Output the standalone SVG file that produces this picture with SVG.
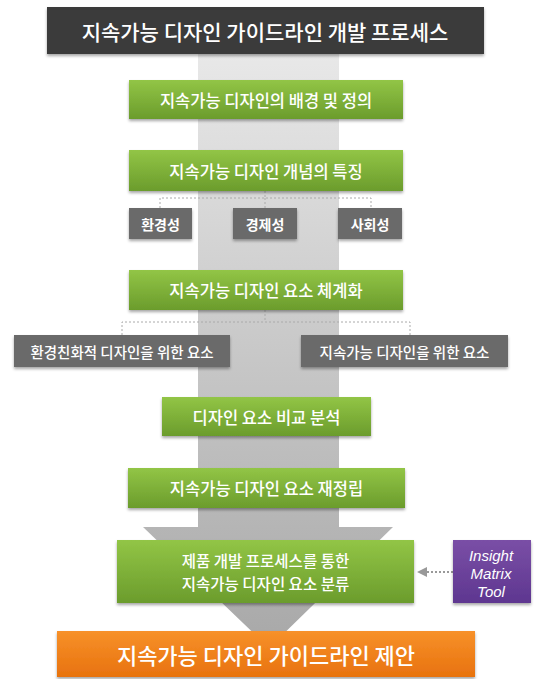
<svg xmlns="http://www.w3.org/2000/svg" width="542" height="679" viewBox="0 0 542 679">
<defs>
<linearGradient id="band" x1="0" y1="0" x2="0" y2="1">
<stop offset="0" stop-color="#e8e8e8"/>
<stop offset="1" stop-color="#a8a8a8"/>
</linearGradient>
<linearGradient id="green" x1="0" y1="0" x2="0" y2="1">
<stop offset="0" stop-color="#92c546"/>
<stop offset="1" stop-color="#6b9c2c"/>
</linearGradient>
<linearGradient id="orange" x1="0" y1="0" x2="0" y2="1">
<stop offset="0" stop-color="#f7912a"/>
<stop offset="1" stop-color="#e8720e"/>
</linearGradient>
<linearGradient id="purple" x1="0" y1="0" x2="0" y2="1">
<stop offset="0" stop-color="#7a4fa6"/>
<stop offset="1" stop-color="#5e3690"/>
</linearGradient>
<filter id="sh" x="-10%" y="-20%" width="120%" height="150%">
<feDropShadow dx="0" dy="2" stdDeviation="1.5" flood-color="#000" flood-opacity="0.35"/>
</filter>
<marker id="ah" viewBox="0 0 10 10" refX="9" refY="5" markerWidth="5" markerHeight="5" orient="auto">
<path d="M0,0 L10,5 L0,10 z" fill="#999"/>
</marker>
</defs>
<style>
.t{font-family:"Noto Sans CJK KR","Noto Sans",sans-serif;fill:#fff;text-anchor:middle;dominant-baseline:central}
.m{font-weight:500}
.it{font-family:"Liberation Sans",Arial,sans-serif;font-style:italic;font-size:15px}
.g{fill:url(#green)}
.gr{fill:#6b6b6b}
.dash{fill:none;stroke:#aaa;stroke-width:1;stroke-dasharray:2 2}
</style>
<rect width="542" height="679" fill="#fff"/>
<g id="band-arrow">
<path d="M198,54 L339,54 L339,527 L393,527 L269,648 L143,527 L198,527 Z" fill="url(#band)"/>
</g>
<g id="connectors">
<path class="dash" d="M265,191 V198 M160,208 V198 H371 V208 M265,198 V208"/>
<path class="dash" d="M265,310 V322 M122,335 V322 H410 V335"/>
<line x1="453" y1="572" x2="418" y2="572" stroke="#999" stroke-width="2" stroke-dasharray="2 2" marker-end="url(#ah)"/>
</g>
<g id="title">
<rect x="47" y="7" width="437" height="47" fill="#3b3b3b" filter="url(#sh)"/>
<text class="t m" x="265" y="31" font-size="21">지속가능 디자인 가이드라인 개발 프로세스</text>
</g>
<g id="n1">
<rect class="g" x="129" y="80" width="274" height="39" filter="url(#sh)"/>
<text class="t m" x="266" y="100" font-size="16.5">지속가능 디자인의 배경 및 정의</text>
</g>
<g id="n2">
<rect class="g" x="129" y="150" width="274" height="41" filter="url(#sh)"/>
<text class="t m" x="266" y="171" font-size="16.5">지속가능 디자인 개념의 특징</text>
</g>
<g id="n2a">
<rect class="gr" x="129" y="208" width="63" height="31" filter="url(#sh)"/>
<text class="t" x="160.5" y="224" font-size="14" font-weight="bold">환경성</text>
</g>
<g id="n2b">
<rect class="gr" x="233" y="208" width="64" height="31" filter="url(#sh)"/>
<text class="t" x="265" y="224" font-size="14" font-weight="bold">경제성</text>
</g>
<g id="n2c">
<rect class="gr" x="338" y="208" width="64" height="31" filter="url(#sh)"/>
<text class="t" x="370" y="224" font-size="14" font-weight="bold">사회성</text>
</g>
<g id="n3">
<rect class="g" x="129" y="270" width="274" height="40" filter="url(#sh)"/>
<text class="t m" x="266" y="290" font-size="16.5">지속가능 디자인 요소 체계화</text>
</g>
<g id="n3a">
<rect class="gr" x="14" y="335" width="216" height="32" filter="url(#sh)"/>
<text class="t m" x="122" y="351" font-size="14.5">환경친화적 디자인을 위한 요소</text>
</g>
<g id="n3b">
<rect class="gr" x="301" y="335" width="207" height="32" filter="url(#sh)"/>
<text class="t m" x="404.5" y="351" font-size="14.5">지속가능 디자인을 위한 요소</text>
</g>
<g id="n4">
<rect class="g" x="162" y="397" width="209" height="39" filter="url(#sh)"/>
<text class="t m" x="266.5" y="417" font-size="16.5">디자인 요소 비교 분석</text>
</g>
<g id="n5">
<rect class="g" x="128" y="468" width="277" height="40" filter="url(#sh)"/>
<text class="t m" x="266.5" y="488" font-size="16.5">지속가능 디자인 요소 재정립</text>
</g>
<g id="n6">
<rect class="g" x="117" y="540" width="297" height="63" filter="url(#sh)"/>
<text class="t m" x="265.5" y="560" font-size="15.5">제품 개발 프로세스를 통한</text>
<text class="t m" x="265.5" y="583" font-size="15.5">지속가능 디자인 요소 분류</text>
</g>
<g id="insight">
<rect x="453" y="540" width="78" height="63" fill="url(#purple)" filter="url(#sh)"/>
<text class="t it" x="491" y="555">Insight</text>
<text class="t it" x="491" y="573">Matrix</text>
<text class="t it" x="491" y="591">Tool</text>
</g>
<g id="final">
<rect x="57" y="631" width="418" height="46" fill="url(#orange)" filter="url(#sh)"/>
<text class="t m" x="266" y="654" font-size="22">지속가능 디자인 가이드라인 제안</text>
</g>
</svg>
